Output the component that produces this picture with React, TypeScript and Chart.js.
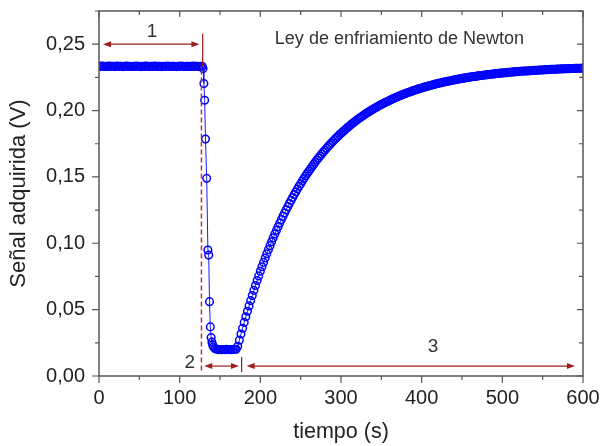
import React, { useEffect, useRef } from 'react';
import { Chart, registerables } from 'chart.js';

Chart.register(...registerables);

// ---- data (time in s, signal in V) ----
const plateauTimes = [
  0, 2, 4, 6, 8, 10, 12, 14, 16, 18,
  20, 22, 24, 26, 28, 30, 32, 34, 36, 38,
  40, 42, 44, 46, 48, 50, 52, 54, 56, 58,
  60, 62, 64, 66, 68, 70, 72, 74, 76, 78,
  80, 82, 84, 86, 88, 90, 92, 94, 96, 98,
  100, 102, 104, 106, 108, 110, 112, 114, 116, 118,
  120, 122, 124, 126, 128,
];
const plateauValues = [
  0.2334, 0.2333, 0.2335, 0.2334, 0.2332, 0.2334, 0.2335, 0.2333, 0.2334, 0.2334,
  0.2332, 0.2335, 0.2334, 0.2333, 0.2334, 0.2331, 0.2334, 0.2335, 0.2333, 0.2334,
  0.2332, 0.2334, 0.2333, 0.2335, 0.2334, 0.2333, 0.2331, 0.2334, 0.2333, 0.2335,
  0.2334, 0.2332, 0.2334, 0.2333, 0.2334, 0.2335, 0.2332, 0.2334, 0.2333, 0.2331,
  0.2334, 0.2333, 0.2334, 0.2335, 0.2332, 0.2334, 0.2333, 0.2334, 0.2331, 0.2334,
  0.2333, 0.2335, 0.2334, 0.2332, 0.2334, 0.2333, 0.2334, 0.2332, 0.2335, 0.2333,
  0.2334, 0.2333, 0.2332, 0.2334, 0.2333,
];
const dropTimes = [129, 130, 131, 132, 133.5, 135, 136, 137, 138, 139, 140, 141, 142, 144];
const dropValues = [0.2316, 0.2204, 0.2078, 0.1785, 0.1489, 0.0949, 0.0911, 0.056, 0.037, 0.029, 0.0255, 0.0232, 0.0218, 0.0206];
const bottomTimes = [146, 148, 150, 152, 154, 156, 158, 160, 162, 164, 166, 168, 170];
const bottomValues = [0.0201, 0.0199, 0.02, 0.0198, 0.02, 0.0199, 0.0201, 0.0199, 0.02, 0.0198, 0.02, 0.0201, 0.0202];
const riseTimes = [
  172, 174, 176, 178, 180, 182, 184, 186, 188, 190,
  192, 194, 196, 198, 200, 202, 204, 206, 208, 210,
  212, 214, 216, 218, 220, 222, 224, 226, 228, 230,
  232, 234, 236, 238, 240, 242, 244, 246, 248, 250,
  252, 254, 256, 258, 260, 262, 264, 266, 268, 270,
  272, 274, 276, 278, 280, 282, 284, 286, 288, 290,
  292, 294, 296, 298, 300, 302, 304, 306, 308, 310,
  312, 314, 316, 318, 320, 322, 324, 326, 328, 330,
  332, 334, 336, 338, 340, 342, 344, 346, 348, 350,
  352, 354, 356, 358, 360, 362, 364, 366, 368, 370,
  372, 374, 376, 378, 380, 382, 384, 386, 388, 390,
  392, 394, 396, 398, 400, 402, 404, 406, 408, 410,
  412, 414, 416, 418, 420, 422, 424, 426, 428, 430,
  432, 434, 436, 438, 440, 442, 444, 446, 448, 450,
  452, 454, 456, 458, 460, 462, 464, 466, 468, 470,
  472, 474, 476, 478, 480, 482, 484, 486, 488, 490,
  492, 494, 496, 498, 500, 502, 504, 506, 508, 510,
  512, 514, 516, 518, 520, 522, 524, 526, 528, 530,
  532, 534, 536, 538, 540, 542, 544, 546, 548, 550,
  552, 554, 556, 558, 560, 562, 564, 566, 568, 570,
  572, 574, 576, 578, 580, 582, 584, 586, 588, 590,
  592, 594, 596, 598, 600,
];
const riseValues = [
  0.0224, 0.027, 0.0316, 0.036, 0.0404, 0.0446, 0.0488, 0.0528, 0.0568, 0.0607,
  0.0645, 0.0682, 0.0719, 0.0754, 0.0789, 0.0823, 0.0856, 0.0889, 0.0921, 0.0952,
  0.0982, 0.1012, 0.1041, 0.107, 0.1098, 0.1125, 0.1152, 0.1178, 0.1203, 0.1228,
  0.1253, 0.1276, 0.13, 0.1323, 0.1345, 0.1367, 0.1388, 0.1409, 0.1429, 0.1449,
  0.1469, 0.1488, 0.1507, 0.1525, 0.1543, 0.156, 0.1577, 0.1594, 0.1611, 0.1627,
  0.1642, 0.1657, 0.1672, 0.1687, 0.1701, 0.1715, 0.1729, 0.1742, 0.1756, 0.1768,
  0.1781, 0.1793, 0.1805, 0.1817, 0.1828, 0.1839, 0.185, 0.1861, 0.1872, 0.1882,
  0.1892, 0.1902, 0.1911, 0.1921, 0.193, 0.1939, 0.1948, 0.1956, 0.1965, 0.1973,
  0.1981, 0.1989, 0.1996, 0.2004, 0.2011, 0.2018, 0.2025, 0.2032, 0.2039, 0.2046,
  0.2052, 0.2058, 0.2064, 0.207, 0.2076, 0.2082, 0.2088, 0.2093, 0.2099, 0.2104,
  0.2109, 0.2114, 0.2119, 0.2124, 0.2128, 0.2133, 0.2138, 0.2142, 0.2146, 0.215,
  0.2155, 0.2159, 0.2163, 0.2166, 0.217, 0.2174, 0.2178, 0.2181, 0.2184, 0.2188,
  0.2191, 0.2194, 0.2198, 0.2201, 0.2204, 0.2207, 0.2209, 0.2212, 0.2215, 0.2218,
  0.222, 0.2223, 0.2225, 0.2228, 0.223, 0.2233, 0.2235, 0.2237, 0.224, 0.2242,
  0.2244, 0.2246, 0.2248, 0.225, 0.2252, 0.2254, 0.2256, 0.2257, 0.2259, 0.2261,
  0.2263, 0.2264, 0.2266, 0.2268, 0.2269, 0.2271, 0.2272, 0.2274, 0.2275, 0.2276,
  0.2278, 0.2279, 0.228, 0.2282, 0.2283, 0.2284, 0.2285, 0.2286, 0.2288, 0.2289,
  0.229, 0.2291, 0.2292, 0.2293, 0.2294, 0.2295, 0.2296, 0.2297, 0.2298, 0.2298,
  0.2299, 0.23, 0.2301, 0.2302, 0.2303, 0.2303, 0.2304, 0.2305, 0.2306, 0.2306,
  0.2307, 0.2308, 0.2308, 0.2309, 0.231, 0.231, 0.2311, 0.2311, 0.2312, 0.2313,
  0.2313, 0.2314, 0.2314, 0.2315, 0.2315, 0.2316, 0.2316, 0.2317, 0.2317, 0.2318,
  0.2318, 0.2319, 0.2319, 0.2319, 0.232,
];

const timeS = [...plateauTimes, ...dropTimes, ...bottomTimes, ...riseTimes];
const signalV = [...plateauValues, ...dropValues, ...bottomValues, ...riseValues];

const chartTitle = 'Ley de enfriamiento de Newton';
const xTitle = 'tiempo (s)';
const yTitle = 'Señal adquirida (V)';

// annotation positions in data units
const phase1 = { from: 5, to: 124.5, y: 0.25, label: '1', labelX: 65.7, labelY: 0.2595 };
const phase1Bar = { x: 128.5, y1: 0.2581, y2: 0.2329 };
const dashedLine = { x: 127, y1: 0.231, y2: 0.003 };
const phase2 = { from: 130.5, to: 173.5, y: 0.0075, label: '2', labelX: 112.5, labelY: 0.0098 };
const phase2Bar = { x: 176.8, y1: 0.0143, y2: 0.003 };
const phase3 = { from: 183, to: 590, y: 0.0075, label: '3', labelX: 414, labelY: 0.0218 };
const titlePos = { x: 218, y: 0.25 };

const FONT = '"Liberation Sans", Arial, sans-serif';
const RED = '#a11d1d';

function arrowHead(ctx: CanvasRenderingContext2D, x: number, y: number, dir: number) {
  ctx.beginPath();
  ctx.moveTo(x, y);
  ctx.lineTo(x - dir * 8, y - 3);
  ctx.lineTo(x - dir * 8, y + 3);
  ctx.closePath();
  ctx.fill();
}

function doubleArrow(ctx: CanvasRenderingContext2D, x1: number, x2: number, y: number) {
  ctx.beginPath();
  ctx.moveTo(x1 + 4, y);
  ctx.lineTo(x2 - 4, y);
  ctx.stroke();
  arrowHead(ctx, x1, y, -1);
  arrowHead(ctx, x2, y, 1);
}

const decorPlugin = {
  id: 'decor',
  afterDatasetsDraw(chart: any) {
    const { ctx, chartArea: a, scales } = chart;
    const xs = scales.x;
    const ys = scales.y;
    const px = (v: number) => xs.getPixelForValue(v);
    const py = (v: number) => ys.getPixelForValue(v);
    ctx.save();

    // frame
    ctx.strokeStyle = '#555';
    ctx.lineWidth = 1.5;
    ctx.strokeRect(a.left, a.top, a.right - a.left, a.bottom - a.top);

    // tick marks
    ctx.lineWidth = 1.2;
    ctx.beginPath();
    for (let i = 0; i <= 12; i++) {
      const x = px(i * 50);
      const major = i % 2 === 0;
      ctx.moveTo(x, a.bottom);
      ctx.lineTo(x, a.bottom + (major ? 7 : 4));
      ctx.moveTo(x, a.top);
      ctx.lineTo(x, a.top + (major ? 6 : 4));
    }
    for (let i = 0; i <= 11; i++) {
      const y = py(i * 0.025);
      const major = i % 2 === 0;
      ctx.moveTo(a.left - (major ? 7 : 4), y);
      ctx.lineTo(a.left, y);
      ctx.moveTo(a.right - (major ? 6 : 4), y);
      ctx.lineTo(a.right, y);
    }
    ctx.stroke();

    // annotations
    ctx.strokeStyle = RED;
    ctx.fillStyle = RED;
    ctx.lineWidth = 1.2;
    doubleArrow(ctx, px(phase1.from), px(phase1.to), py(phase1.y));
    doubleArrow(ctx, px(phase2.from), px(phase2.to), py(phase2.y));
    doubleArrow(ctx, px(phase3.from), px(phase3.to), py(phase3.y));
    ctx.beginPath();
    ctx.moveTo(px(phase1Bar.x), py(phase1Bar.y1));
    ctx.lineTo(px(phase1Bar.x), py(phase1Bar.y2));
    ctx.moveTo(px(phase2Bar.x), py(phase2Bar.y1));
    ctx.lineTo(px(phase2Bar.x), py(phase2Bar.y2));
    ctx.stroke();
    ctx.strokeStyle = '#b03a3a';
    ctx.lineWidth = 1.5;
    ctx.setLineDash([5, 3]);
    ctx.beginPath();
    ctx.moveTo(px(dashedLine.x), py(dashedLine.y1));
    ctx.lineTo(px(dashedLine.x), py(dashedLine.y2));
    ctx.stroke();
    ctx.setLineDash([]);

    ctx.fillStyle = '#333';
    ctx.font = `19px ${FONT}`;
    ctx.textAlign = 'center';
    ctx.textBaseline = 'middle';
    ctx.fillText(phase1.label, px(phase1.labelX), py(phase1.labelY));
    ctx.fillText(phase2.label, px(phase2.labelX), py(phase2.labelY));
    ctx.fillText(phase3.label, px(phase3.labelX), py(phase3.labelY));

    ctx.font = `18px ${FONT}`;
    ctx.textAlign = 'left';
    ctx.textBaseline = 'alphabetic';
    ctx.fillText(chartTitle, px(titlePos.x), py(titlePos.y));
    ctx.restore();
  },
};

export default function App() {
  const ref = useRef<HTMLCanvasElement | null>(null);
  useEffect(() => {
    if (!ref.current) return;
    const data = timeS.map((t, i) => ({ x: t, y: signalV[i] }));
    const chart = new Chart(ref.current, {
      type: 'scatter',
      data: {
        datasets: [
          {
            data,
            showLine: true,
            borderColor: '#1a1aff',
            borderWidth: 1,
            pointRadius: 3.8,
            pointBorderWidth: 1.5,
            pointBorderColor: '#0000ff',
            pointBackgroundColor: 'rgba(255,255,255,0)',
          },
        ],
      },
      options: {
        responsive: false,
        animation: false,
        events: [],
        layout: { padding: 0 },
        plugins: { legend: { display: false }, tooltip: { enabled: false } },
        scales: {
          x: {
            type: 'linear',
            min: 0,
            max: 600,
            grid: { display: false, drawTicks: false },
            border: { display: false },
            ticks: {
              stepSize: 100,
              padding: 10,
              color: '#222',
              font: { size: 20, family: FONT },
              maxRotation: 0,
            },
            title: {
              display: true,
              text: xTitle,
              color: '#222',
              font: { size: 21.5, family: FONT },
              padding: { top: 0, bottom: 1 },
            },
            afterFit: (s: any) => {
              s.height = 70;
              s.paddingLeft = 0;
              s.paddingRight = 17;
            },
          },
          y: {
            type: 'linear',
            min: 0,
            max: 0.275,
            grid: { display: false, drawTicks: false },
            border: { display: false },
            ticks: {
              stepSize: 0.05,
              includeBounds: false,
              padding: 14,
              color: '#222',
              font: { size: 20, family: FONT },
              callback: (v: any) => Number(v).toFixed(2).replace('.', ','),
            },
            title: {
              display: true,
              text: yTitle,
              color: '#222',
              font: { size: 22, family: FONT },
              padding: { top: 6, bottom: 0 },
            },
            afterFit: (s: any) => {
              s.width = 99;
              s.paddingTop = 11;
              s.paddingBottom = 0;
            },
          },
        },
      },
      plugins: [decorPlugin],
    });
    return () => chart.destroy();
  }, []);
  return (
    <div style={{ position: 'absolute', left: 0, top: 0, width: 600, height: 446, background: '#fff' }}>
      <canvas ref={ref} width={600} height={446} />
    </div>
  );
}
